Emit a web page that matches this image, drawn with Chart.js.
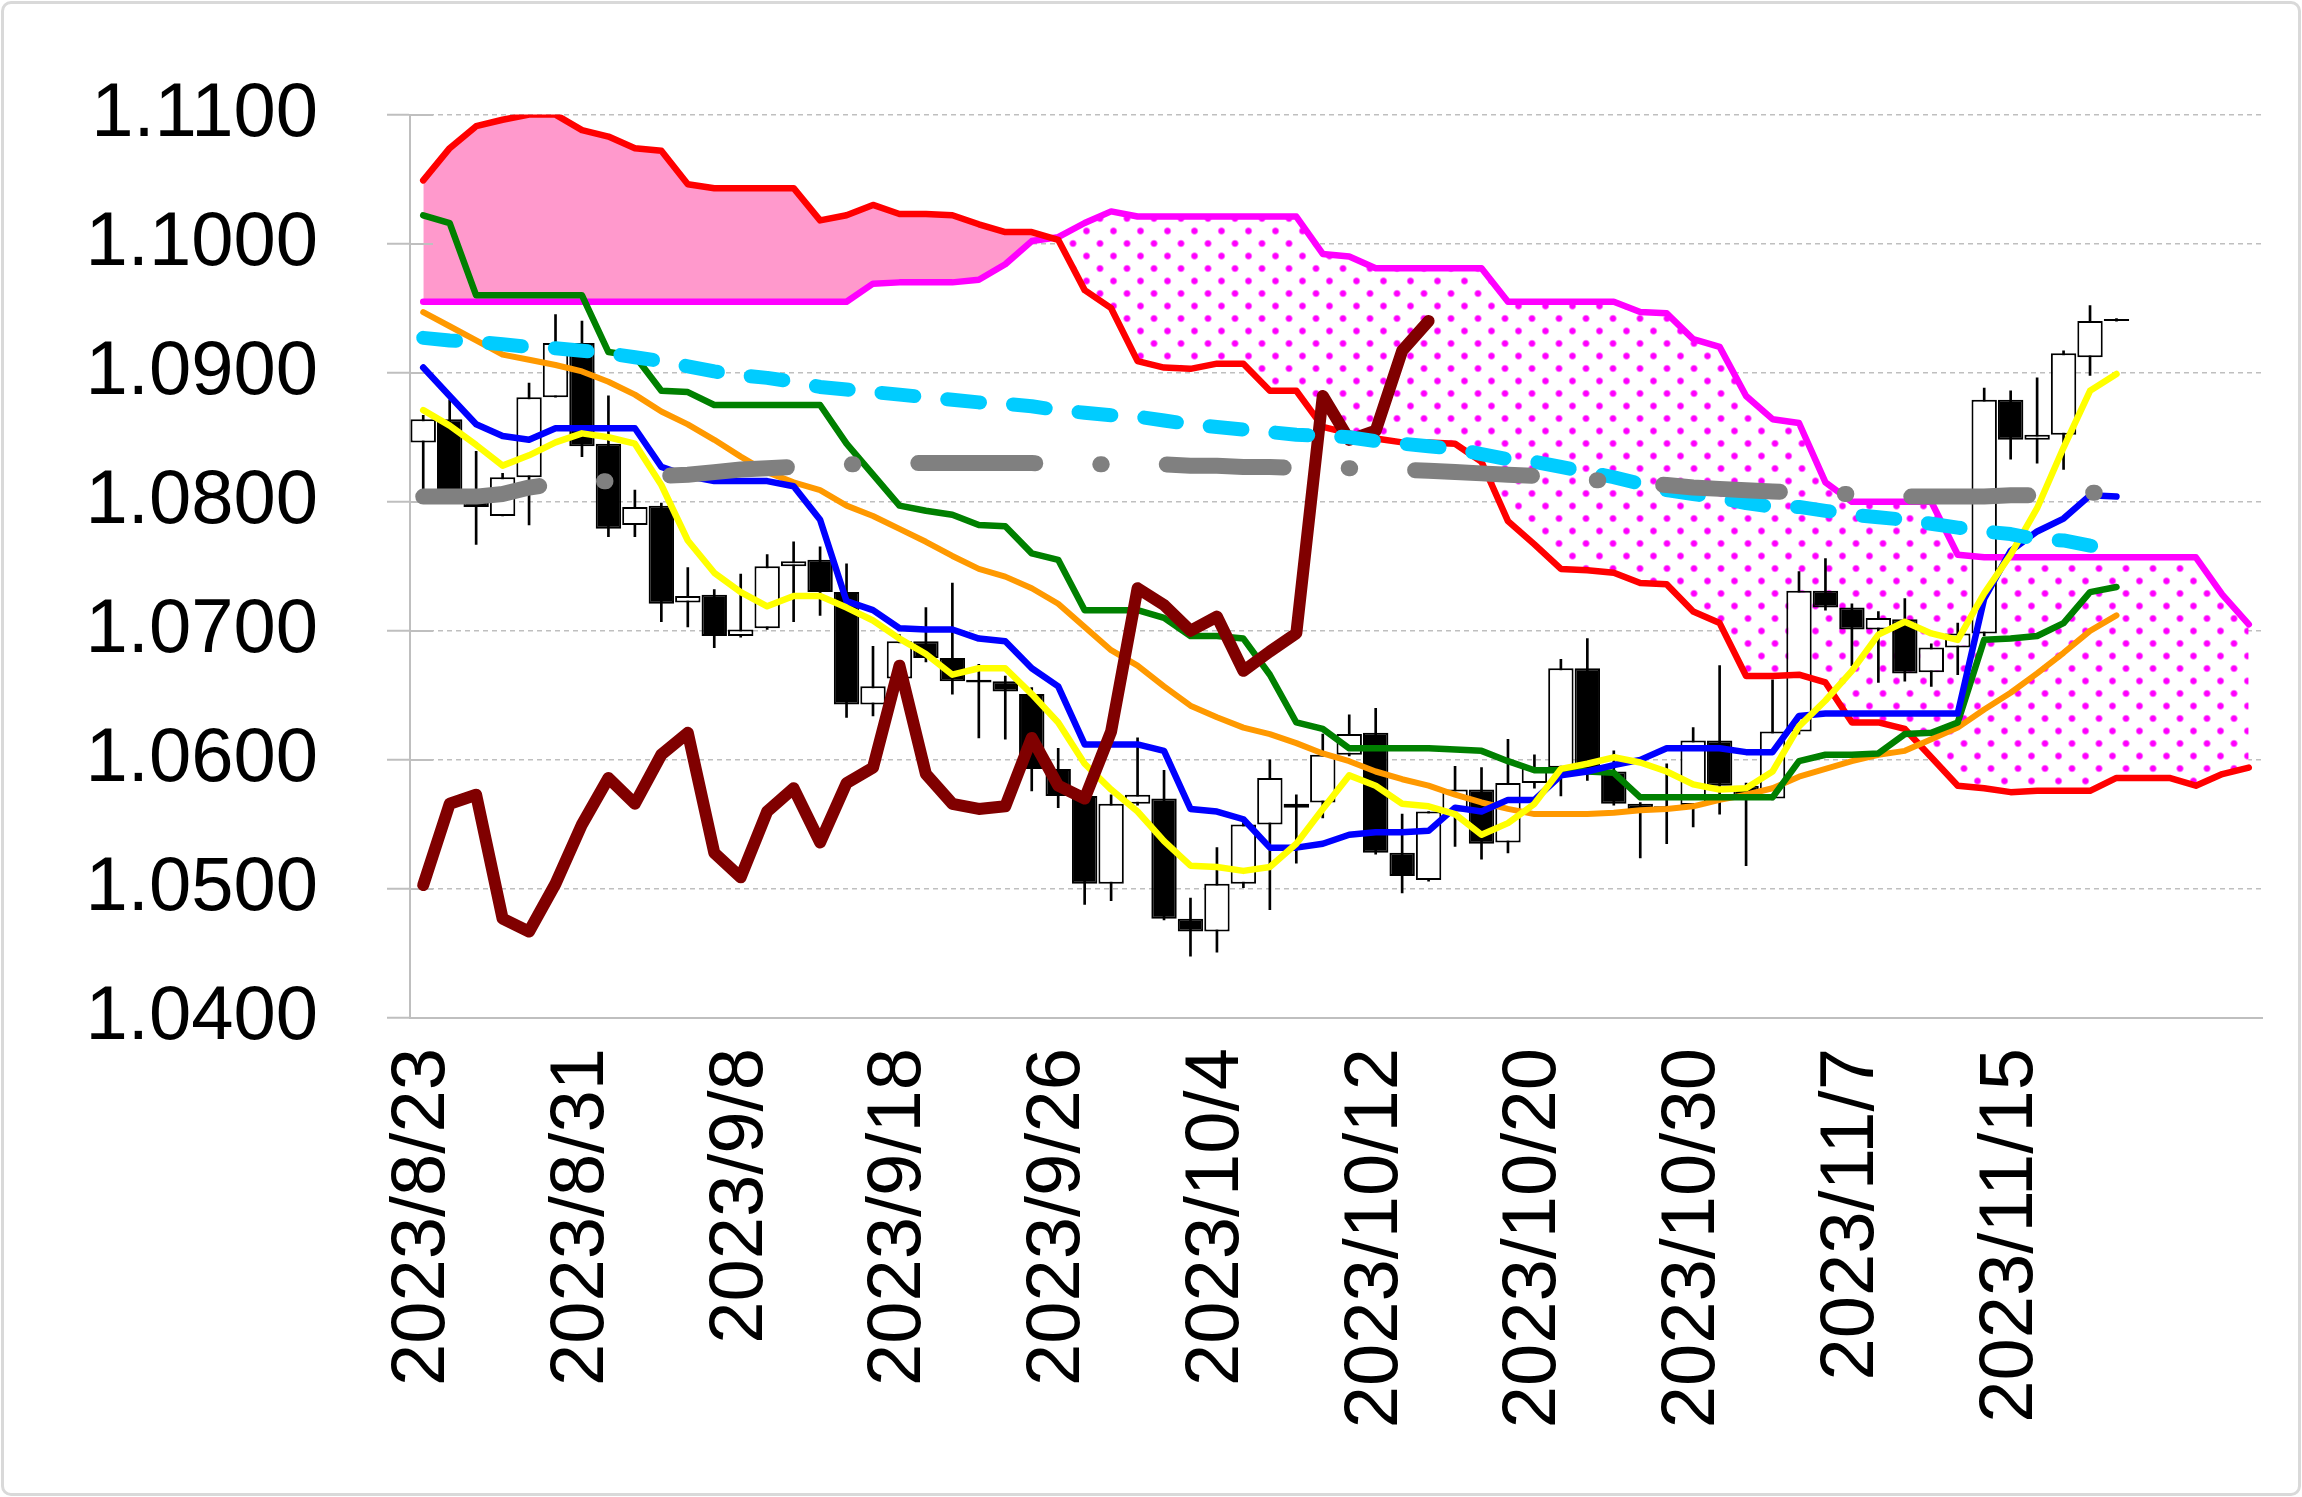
<!DOCTYPE html>
<html>
<head>
<meta charset="utf-8">
<script src="https://cdn.jsdelivr.net/npm/chart.js@4/dist/chart.umd.min.js"></script>
<style>
  html, body { margin: 0; padding: 0; background: #fff; }
  #wrap { position: relative; width: 2302px; height: 1497px; }
  #chart { position: absolute; left: 0; top: 0; }
  #frame { position: absolute; left: 1px; top: 1px; width: 2294px; height: 1489px;
           border: 3px solid #d9d9d9; border-radius: 10px; pointer-events: none; }
</style>
</head>
<body>
<div id="wrap">
  <canvas id="chart" width="2302" height="1497"></canvas>
  <div id="frame"></div>
</div>
<script>
/* ===== Ichimoku chart, EUR/USD daily ===== */

// trading days with prices, plus 5 blank slots where only the cloud runs on
const dates = [
  '2023/8/23','2023/8/24','2023/8/25','2023/8/28','2023/8/29','2023/8/30','2023/8/31',
  '2023/9/1','2023/9/4','2023/9/5','2023/9/6','2023/9/7','2023/9/8','2023/9/11','2023/9/12',
  '2023/9/13','2023/9/14','2023/9/15','2023/9/18','2023/9/19','2023/9/20','2023/9/21','2023/9/22',
  '2023/9/25','2023/9/26','2023/9/27','2023/9/28','2023/9/29',
  '2023/10/2','2023/10/3','2023/10/4','2023/10/5','2023/10/6','2023/10/9','2023/10/10','2023/10/11',
  '2023/10/12','2023/10/13','2023/10/16','2023/10/17','2023/10/18','2023/10/19','2023/10/20',
  '2023/10/23','2023/10/24','2023/10/25','2023/10/26','2023/10/27','2023/10/30','2023/10/31',
  '2023/11/1','2023/11/2','2023/11/3','2023/11/6','2023/11/7','2023/11/8','2023/11/9','2023/11/10',
  '2023/11/13','2023/11/14','2023/11/15','2023/11/16','2023/11/17','2023/11/20','2023/11/21'
];
const leadSlots = ['', '', '', '', ''];

const openP = [
  1.0846,1.0864,1.0805,1.0789,1.0819,1.0881,1.0923,1.0845,1.0782,1.0797,
  1.0722,1.0728,1.0696,1.0702,1.0750,1.0755,1.0730,1.0643,1.0663,1.0692,
  1.0679,1.0662,1.0661,1.0651,1.0593,1.0572,1.0504,1.0566,1.0570,1.0477,
  1.0467,1.0504,1.0550,1.0563,1.0567,1.0604,1.0621,1.0528,1.0507,1.0560,
  1.0577,1.0536,1.0582,1.0594,1.0671,1.0591,1.0566,1.0562,1.0565,1.0615,
  1.0580,1.0570,1.0622,1.0731,1.0718,1.0701,1.0709,1.0668,1.0687,1.0698,
  1.0879,1.0848,1.0852,1.0912,1.0940
];
const highP = [
  1.0867,1.0879,1.0839,1.0822,1.0892,1.0945,1.0940,1.0882,1.0809,1.0799,
  1.0749,1.0732,1.0744,1.0759,1.0769,1.0765,1.0752,1.0688,1.0697,1.0718,
  1.0737,1.0674,1.0665,1.0656,1.0609,1.0574,1.0573,1.0617,1.0592,1.0493,
  1.0532,1.0552,1.0600,1.0573,1.0620,1.0635,1.0640,1.0558,1.0560,1.0595,
  1.0594,1.0616,1.0604,1.0678,1.0694,1.0607,1.0567,1.0597,1.0625,1.0673,
  1.0582,1.0662,1.0746,1.0756,1.0721,1.0715,1.0725,1.0690,1.0706,1.0888,
  1.0886,1.0896,1.0917,1.0952,1.0942
];
const lowP = [
  1.0809,1.0800,1.0767,1.0789,1.0782,1.0881,1.0835,1.0773,1.0773,1.0707,
  1.0703,1.0687,1.0695,1.0701,1.0707,1.0712,1.0633,1.0634,1.0662,1.0676,
  1.0651,1.0617,1.0616,1.0576,1.0563,1.0488,1.0491,1.0565,1.0476,1.0448,
  1.0451,1.0501,1.0484,1.0520,1.0555,1.0603,1.0527,1.0497,1.0506,1.0533,
  1.0523,1.0528,1.0578,1.0572,1.0584,1.0565,1.0524,1.0535,1.0548,1.0558,
  1.0518,1.0569,1.0620,1.0716,1.0673,1.0660,1.0661,1.0657,1.0666,1.0696,
  1.0833,1.0830,1.0825,1.0898,1.0940
];
const closeP = [
  1.0864,1.0805,1.0796,1.0819,1.0881,1.0923,1.0843,1.0779,1.0796,1.0721,
  1.0727,1.0696,1.0701,1.0750,1.0754,1.0730,1.0643,1.0657,1.0692,1.0679,
  1.0661,1.0660,1.0653,1.0593,1.0572,1.0504,1.0566,1.0573,1.0477,1.0467,
  1.0504,1.0550,1.0586,1.0566,1.0604,1.0620,1.0528,1.0510,1.0560,1.0577,
  1.0535,1.0582,1.0594,1.0671,1.0590,1.0566,1.0562,1.0564,1.0615,1.0580,
  1.0570,1.0622,1.0731,1.0718,1.0701,1.0710,1.0667,1.0687,1.0698,1.0879,
  1.0848,1.0852,1.0915,1.0940,1.0940
];

// conversion line (blue) and base line (green)
const tenkan = [
  1.0904,1.0882,1.0860,1.0851,1.0848,1.0857,1.0857,1.0857,1.0857,1.0827,
  1.0820,1.0816,1.0816,1.0816,1.0812,1.0786,1.0723,1.0716,1.0702,1.0701,
  1.0701,1.0694,1.0692,1.0671,1.0657,1.0612,1.0612,1.0612,1.0607,1.0562,
  1.0560,1.0554,1.0532,1.0532,1.0535,1.0542,1.0544,1.0544,1.0545,1.0563,
  1.0560,1.0569,1.0569,1.0588,1.0591,1.0596,1.0600,1.0609,1.0609,1.0609,
  1.0606,1.0606,1.0634,1.0636,1.0636,1.0636,1.0636,1.0636,1.0636,1.0725,
  1.0762,1.0777,1.0787,1.0805,1.0804
];
const kijun = [
  1.1022,1.1016,1.0960,1.0960,1.0960,1.0960,1.0960,1.0916,1.0913,1.0886,
  1.0885,1.0875,1.0875,1.0875,1.0875,1.0875,1.0845,1.0821,1.0797,1.0793,
  1.0790,1.0782,1.0781,1.0760,1.0755,1.0716,1.0716,1.0716,1.0710,1.0696,
  1.0696,1.0694,1.0666,1.0629,1.0624,1.0609,1.0609,1.0609,1.0609,1.0608,
  1.0607,1.0599,1.0592,1.0592,1.0591,1.0590,1.0571,1.0571,1.0571,1.0571,
  1.0571,1.0571,1.0599,1.0604,1.0604,1.0605,1.0620,1.0621,1.0629,1.0693,
  1.0694,1.0696,1.0706,1.0730,1.0734
];

// leading spans (cloud edges), they run 5 slots past the last candle
const spanA = [
  1.1049,1.1074,1.1091,1.1096,1.1100,1.1100,1.1088,1.1083,1.1074,1.1072,
  1.1046,1.1043,1.1043,1.1043,1.1043,1.1018,1.1022,1.1030,1.1023,1.1023,
  1.1022,1.1015,1.1009,1.1009,1.1003,1.0964,1.0950,1.0909,1.0904,1.0903,
  1.0907,1.0907,1.0886,1.0886,1.0858,1.0853,1.0849,1.0846,1.0846,1.0845,
  1.0831,1.0785,1.0767,1.0748,1.0747,1.0745,1.0737,1.0736,1.0715,1.0706,
  1.0665,1.0665,1.0666,1.0660,1.0629,1.0629,1.0624,1.0602,1.0580,1.0578,
  1.0575,1.0576,1.0576,1.0576,1.0586,1.0586,1.0586,1.0580,1.0589,1.0594
];
const spanB = [
  1.0955,1.0955,1.0955,1.0955,1.0955,1.0955,1.0955,1.0955,1.0955,1.0955,
  1.0955,1.0955,1.0955,1.0955,1.0955,1.0955,1.0955,1.0969,1.0970,1.0970,
  1.0970,1.0972,1.0984,1.1002,1.1005,1.1016,1.1025,1.1021,1.1021,1.1021,
  1.1021,1.1021,1.1021,1.1021,1.0992,1.0990,1.0981,1.0981,1.0981,1.0981,
  1.0981,1.0955,1.0955,1.0955,1.0955,1.0955,1.0947,1.0946,1.0926,1.0920,
  1.0882,1.0864,1.0861,1.0815,1.0800,1.0800,1.0800,1.0800,1.0759,1.0757,
  1.0757,1.0757,1.0757,1.0757,1.0757,1.0757,1.0757,1.0757,1.0728,1.0705
];

// lagging span (dark red), 25 slots behind
const chikou = [
  1.0503,1.0566,1.0573,1.0477,1.0467,1.0504,1.0550,1.0586,1.0566,1.0604,
  1.0621,1.0528,1.0509,1.0560,1.0578,1.0536,1.0582,1.0594,1.0673,1.0589,
  1.0566,1.0562,1.0564,1.0617,1.0580,1.0570,1.0622,1.0733,1.0720,1.0700,
  1.0711,1.0669,1.0684,1.0698,1.0882,1.0848,1.0855,1.0917,1.0940
];

// moving averages
const ma5 = [
  1.0871,1.0859,1.0844,1.0828,1.0836,1.0846,1.0853,1.0850,1.0845,1.0813,
  1.0770,1.0745,1.0730,1.0719,1.0727,1.0727,1.0718,1.0708,1.0694,1.0682,
  1.0666,1.0671,1.0671,1.0651,1.0629,1.0597,1.0577,1.0560,1.0537,1.0518,
  1.0517,1.0514,1.0517,1.0535,1.0562,1.0588,1.0580,1.0566,1.0564,1.0558,
  1.0542,1.0551,1.0566,1.0593,1.0597,1.0602,1.0598,1.0591,1.0581,1.0577,
  1.0578,1.0591,1.0626,1.0646,1.0669,1.0697,1.0707,1.0698,1.0693,1.0729,
  1.0759,1.0795,1.0842,1.0886,1.0899
];
const ma25 = [
  1.0947,1.0936,1.0925,1.0914,1.0910,1.0906,1.0901,1.0893,1.0883,1.0870,
  1.0860,1.0848,1.0835,1.0823,1.0815,1.0809,1.0797,1.0789,1.0779,1.0769,
  1.0758,1.0748,1.0742,1.0733,1.0721,1.0703,1.0685,1.0673,1.0657,1.0642,
  1.0633,1.0625,1.0620,1.0613,1.0605,1.0599,1.0591,1.0585,1.0580,1.0573,
  1.0567,1.0562,1.0558,1.0558,1.0558,1.0559,1.0561,1.0562,1.0564,1.0569,
  1.0573,1.0578,1.0587,1.0593,1.0599,1.0604,1.0607,1.0616,1.0625,1.0639,
  1.0652,1.0667,1.0683,1.0700,1.0712
];
const ma100 = [
  1.0927,1.0925,1.0924,1.0922,1.0920,1.0919,1.0917,1.0915,1.0912,1.0909,
  1.0905,1.0901,1.0898,1.0896,1.0893,1.0889,1.0887,1.0885,1.0883,1.0881,
  1.0879,1.0877,1.0876,1.0874,1.0871,1.0869,1.0867,1.0866,1.0863,1.0860,
  1.0858,1.0856,1.0854,1.0852,1.0851,1.0850,1.0847,1.0845,1.0843,1.0841,
  1.0837,1.0833,1.0831,1.0827,1.0823,1.0819,1.0814,1.0809,1.0806,1.0803,
  1.0799,1.0796,1.0796,1.0793,1.0790,1.0788,1.0786,1.0783,1.0780,1.0777,
  1.0775,1.0771,1.0770,1.0766,1.0763
];
const ma200 = [
  1.0804,1.0804,1.0804,1.0806,1.0811,1.0814,1.0815,1.0816,1.0818,1.0820,
  1.0821,1.0823,1.0825,1.0826,1.0827,1.0828,1.0829,1.0829,1.0830,1.0830,
  1.0830,1.0830,1.0830,1.0830,1.0829,1.0829,1.0829,1.0829,1.0829,1.0828,
  1.0828,1.0827,1.0827,1.0826,1.0826,1.0826,1.0825,1.0825,1.0824,1.0823,
  1.0822,1.0821,1.0820,1.0819,1.0817,1.0816,1.0814,1.0813,1.0811,1.0810,
  1.0809,1.0808,1.0807,1.0806,1.0806,1.0805,1.0804,1.0804,1.0804,1.0804,
  1.0805,1.0805,1.0806,1.0807,1.0807
];

const yTicks = { min: 1.04, max: 1.11, step: 0.01 };

const FONT = "'Liberation Sans', Arial, sans-serif";
const GRID = '#BFBFBF';

const canvas = document.getElementById('chart');
const ctx = canvas.getContext('2d');

// white tile with magenta dots for the part of the cloud where span B is on top
function dotPattern() {
  const tile = document.createElement('canvas');
  tile.width = 27;
  tile.height = 25;
  const g = tile.getContext('2d');
  g.fillStyle = '#fff';
  g.fillRect(0, 0, 27, 25);
  [[6.5, 6], [20, 18.5]].forEach(([x, y]) => {
    const rg = g.createRadialGradient(x, y, 0, x, y, 4.2);
    rg.addColorStop(0, '#ff00ff');
    rg.addColorStop(0.55, '#ff00ff');
    rg.addColorStop(1, 'rgba(255,0,255,0)');
    g.fillStyle = rg;
    g.beginPath();
    g.arc(x, y, 4.2, 0, Math.PI * 2);
    g.fill();
  });
  return ctx.createPattern(tile, 'repeat');
}

function line(label, data, color, width, order, extra) {
  return Object.assign({
    type: 'line',
    label,
    data,
    borderColor: color,
    backgroundColor: color,
    borderWidth: width,
    pointRadius: 0,
    tension: 0,
    fill: false,
    borderJoinStyle: 'round',
    borderCapStyle: 'round',
    order
  }, extra || {});
}

const bodyColors = openP.map((o, i) => closeP[i] >= o ? '#ffffff' : '#000000');

const datasets = [
  line('MA200', ma200, '#808080', 16, 1, { borderDash: [117, 65, 1.5, 65] }),
  line('MA100', ma100, '#00CCFF', 14, 2, { borderDash: [33, 33] }),
  line('Chikou', chikou, '#800000', 12, 3),
  line('MA5', ma5, '#FFFF00', 6.5, 4),
  line('Tenkan', tenkan, '#0000FF', 6.5, 5),
  line('Kijun', kijun, '#008000', 6.5, 6),
  line('MA25', ma25, '#FF9900', 6, 7),
  line('Span A', spanA, '#FF0000', 6.5, 8),
  line('Span B', spanB, '#FF00FF', 6.5, 9),
  {
    type: 'bar',
    label: 'Body',
    data: openP.map((o, i) => [o, closeP[i]]),
    backgroundColor: bodyColors,
    borderColor: '#000',
    borderWidth: 2,
    borderSkipped: false,
    minBarLength: 2,
    grouped: false,
    categoryPercentage: 1,
    barPercentage: 0.96,
    order: 10
  },
  {
    type: 'bar',
    label: 'Wick',
    data: lowP.map((l, i) => [l, highP[i]]),
    backgroundColor: '#000',
    borderWidth: 0,
    grouped: false,
    barThickness: 2,
    order: 11
  }
];

// cloud: pink where span A is above span B, dotted where it is below
const idxB = datasets.findIndex(d => d.label === 'Span B');
const idxA = datasets.findIndex(d => d.label === 'Span A');
datasets[idxA].fill = { target: idxB, above: '#FF99CC', below: dotPattern() };

// short solid tick marks that cross into the plot on the value axis
const innerTicks = {
  id: 'innerTicks',
  beforeDatasetsDraw(chart) {
    const { ctx, scales: { y }, chartArea } = chart;
    ctx.save();
    ctx.strokeStyle = GRID;
    ctx.lineWidth = 2;
    y.ticks.forEach(t => {
      const py = Math.round(y.getPixelForValue(t.value));
      ctx.beginPath();
      ctx.moveTo(chartArea.left, py);
      ctx.lineTo(chartArea.left + 23, py);
      ctx.stroke();
    });
    ctx.restore();
  }
};

new Chart(ctx, {
  type: 'bar',
  data: { labels: dates.concat(leadSlots), datasets },
  options: {
    responsive: false,
    animation: false,
    layout: { padding: { top: 112, right: 40, left: 0, bottom: 0 } },
    plugins: {
      legend: { display: false },
      tooltip: { enabled: false },
      filler: { drawTime: 'beforeDatasetsDraw' }
    },
    scales: {
      x: {
        type: 'category',
        offset: true,
        grid: { display: false, drawTicks: false },
        border: { display: true, color: GRID, width: 2 },
        ticks: {
          autoSkip: false,
          maxRotation: 90,
          minRotation: 90,
          padding: 30,
          color: '#000',
          font: { family: FONT, size: 76 },
          callback: function (val, idx) {
            return idx % 6 === 0 ? this.getLabelForValue(val) : '';
          }
        },
        afterFit: s => {
          s.height = 479;
          s.paddingLeft = 0;
          s.paddingRight = 0;
        }
      },
      y: {
        min: yTicks.min,
        max: yTicks.max,
        grid: {
          color: GRID,
          lineWidth: 1.5,
          tickLength: 23,
          tickColor: GRID,
          tickWidth: 2,
          tickBorderDash: []
        },
        border: { display: true, color: GRID, width: 2, dash: [5, 4] },
        ticks: {
          stepSize: yTicks.step,
          padding: 69,
          color: '#000',
          font: { family: FONT, size: 76 },
          callback: v => Number(v).toFixed(4)
        },
        afterFit: s => { s.width = 410; }
      }
    }
  },
  plugins: [innerTicks]
});
</script>
</body>
</html>
